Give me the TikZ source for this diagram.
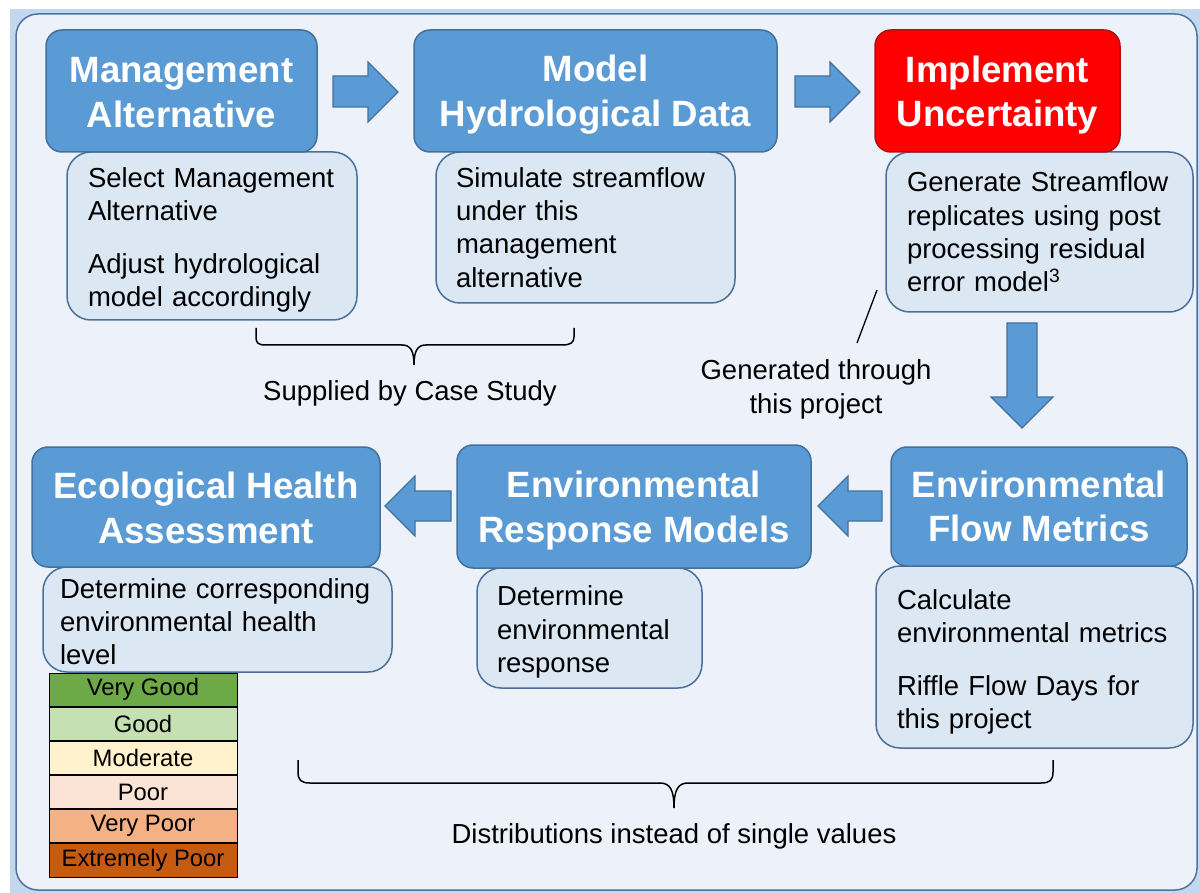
\documentclass[tikz,border=0pt]{standalone}
\usepackage{fontspec}
\setmainfont{Liberation Sans}
\definecolor{band}{HTML}{C3D8EE}
\definecolor{frameline}{HTML}{4F73A0}
\definecolor{framefill}{HTML}{EDF2FA}
\definecolor{boxblue}{HTML}{5B9BD5}
\definecolor{boxline}{HTML}{41719C}
\definecolor{subfill}{HTML}{DCE7F4}
\definecolor{subline}{HTML}{4A6F98}
\definecolor{redfill}{HTML}{FF0000}
\definecolor{redline}{HTML}{B01010}
\definecolor{lvA}{HTML}{6DAA47}
\definecolor{lvB}{HTML}{C5E0B3}
\definecolor{lvC}{HTML}{FFF2CC}
\definecolor{lvD}{HTML}{FBE4D5}
\definecolor{lvE}{HTML}{F4B183}
\definecolor{lvF}{HTML}{C55A11}
% invisible struts: lift the first line's height / deepen the last line's depth
\newcommand\firstline[1]{\rule{0pt}{#1pt}}
\newcommand\lastline[1]{\rule[-#1pt]{0pt}{#1pt}}
\begin{document}
\begin{tikzpicture}[x=1pt,y=-1pt,
  titlebox/.style={draw=boxline, fill=boxblue, line width=1.5pt, rounded corners=16pt,
    text=white, font=\fontsize{36.6}{44.5}\selectfont\bfseries, align=center, inner sep=0pt},
  redbox/.style={titlebox, draw=redline, fill=redfill},
  subbox/.style={draw=subline, fill=subfill, line width=1.5pt, rounded corners=24pt,
    font=\fontsize{27.5}{33.3}\selectfont, align=left, inner ysep=0pt},
  note/.style={font=\fontsize{27.5}{34}\selectfont, align=center, inner sep=0pt},
  blockarrow/.style={draw=boxline, fill=boxblue, line width=1.2pt, line join=miter},
  bracepen/.style={draw=black, line width=1.5pt},
  level/.style={draw=black, line width=0.8pt, minimum width=188pt, minimum height=33.33pt,
    inner sep=0pt, font=\fontsize{23.8}{26}\selectfont}
]
\useasboundingbox (0,0) rectangle (1200,893);
\fill[white] (0,0) rectangle (1200,893);
\fill[band] (10,9) rectangle (1200,893);
\draw[frameline, fill=framefill, line width=1.5pt, rounded corners=22pt] (16,14) rectangle (1197,890);

% detail boxes (drawn first so the headings sit on top of them)
\node[subbox, inner xsep=21pt, text width=248pt, minimum height=168pt] (maS) at (212,236)
  {\firstline{28}Select Management\\Alternative\\[19pt]Adjust hydrological\\model accordingly};
\node[subbox, inner xsep=20pt, text width=259pt, minimum height=151pt] (mhS) at (585.5,227.5)
  {Simulate streamflow\\under this\\management\\alternative};
\node[subbox, inner xsep=21pt, text width=265pt, minimum height=160pt] (iuS) at (1039.5,232)
  {Generate Streamflow\\replicates using post\\processing residual\\error model\textsuperscript{3}};
\node[subbox, inner xsep=17pt, text width=315pt, minimum height=105pt] (ehS) at (217.5,619.5)
  {\firstline{24}Determine corresponding\\environmental health\\level};
\node[subbox, inner xsep=20pt, text width=185pt, minimum height=120pt] (erS) at (589.5,628)
  {\firstline{28}Determine\\environmental\\response};
\node[subbox, inner xsep=21pt, text width=275pt, minimum height=182pt] (efS) at (1034.5,657)
  {\firstline{30}Calculate\\environmental metrics\\[19pt]Riffle Flow Days for\\this project};

% headings
\node[titlebox, minimum width=271pt, minimum height=122pt] (ma) at (181.5,91)
  {\firstline{28.2}Management\\Alternative};
\node[titlebox, minimum width=363pt, minimum height=122pt] (mh) at (595.5,91)
  {\firstline{34.2}Model\\Hydrological Data};
\node[redbox, minimum width=245pt, minimum height=122pt] (iu) at (997.5,91)
  {\firstline{34.2}Implement\\Uncertainty};
\node[titlebox, minimum width=348pt, minimum height=120pt] (eh) at (206,507)
  {\firstline{28.7}Ecological Health\\Assessment};
\node[titlebox, minimum width=354pt, minimum height=123pt] (er) at (634,506.5)
  {\firstline{34.2}Environmental\\Response Models};
\node[titlebox, minimum width=296pt, minimum height=119pt] (ef) at (1039,506.5)
  {\firstline{32.2}Environmental\\Flow Metrics\lastline{6}};

% block arrows between the stages
\path[blockarrow] (333,76) -- (368,76) -- (368,62) -- (398,92) -- (368,122) -- (368,107) -- (333,107) -- cycle;
\path[blockarrow] (795,76) -- (830,76) -- (830,62) -- (860,92) -- (830,122) -- (830,107) -- (795,107) -- cycle;
\path[blockarrow] (1007,323) -- (1037,323) -- (1037,397) -- (1053,397) -- (1022,428) -- (991,397) -- (1007,397) -- cycle;
\path[blockarrow] (882,491) -- (848,491) -- (848,476) -- (818,506) -- (848,536) -- (848,521) -- (882,521) -- cycle;
\path[blockarrow] (451,491) -- (415,491) -- (415,476) -- (385,506) -- (415,536) -- (415,521) -- (451,521) -- cycle;

% health level scale
\node[level, fill=lvA] (lv1) at (143,689.67) {Very Good};
\node[level, fill=lvB, anchor=north] (lv2) at (lv1.south) {Good};
\node[level, fill=lvC, anchor=north] (lv3) at (lv2.south) {Moderate};
\node[level, fill=lvD, anchor=north] (lv4) at (lv3.south) {Poor};
\node[level, fill=lvE, anchor=north] (lv5) at (lv4.south) {Very Poor};
\node[level, fill=lvF, anchor=north] (lv6) at (lv5.south) {Extremely Poor};

% annotations
\node[note] (case) at (410,393) {Supplied by Case Study};
\node[note] (proj) at (816,389) {Generated through\\this project};
\node[note] (dist) at (674,836) {Distributions instead of single values};

\coordinate (leadA) at (877,290);
\coordinate (leadB) at (857,343);
\draw[black, line width=1.3pt] (leadA) -- (leadB);

% braces
\draw[bracepen] (256,328) -- (256,337) .. controls (256,343) and (258,345) .. (266,345)
  -- (402,345) .. controls (410,345) and (414,350) .. (414,365)
  .. controls (414,350) and (418,345) .. (426,345)
  -- (562,345) .. controls (570,345) and (574,343) .. (574,337) -- (574,328);
\draw[bracepen] (298,760) -- (298,772) .. controls (298,780) and (301,783) .. (310,783)
  -- (660,783) .. controls (670,783) and (674,790) .. (674,808)
  .. controls (674,790) and (678,783) .. (688,783)
  -- (1041,783) .. controls (1050,783) and (1053,780) .. (1053,772) -- (1053,760);
\end{tikzpicture}
\end{document}
